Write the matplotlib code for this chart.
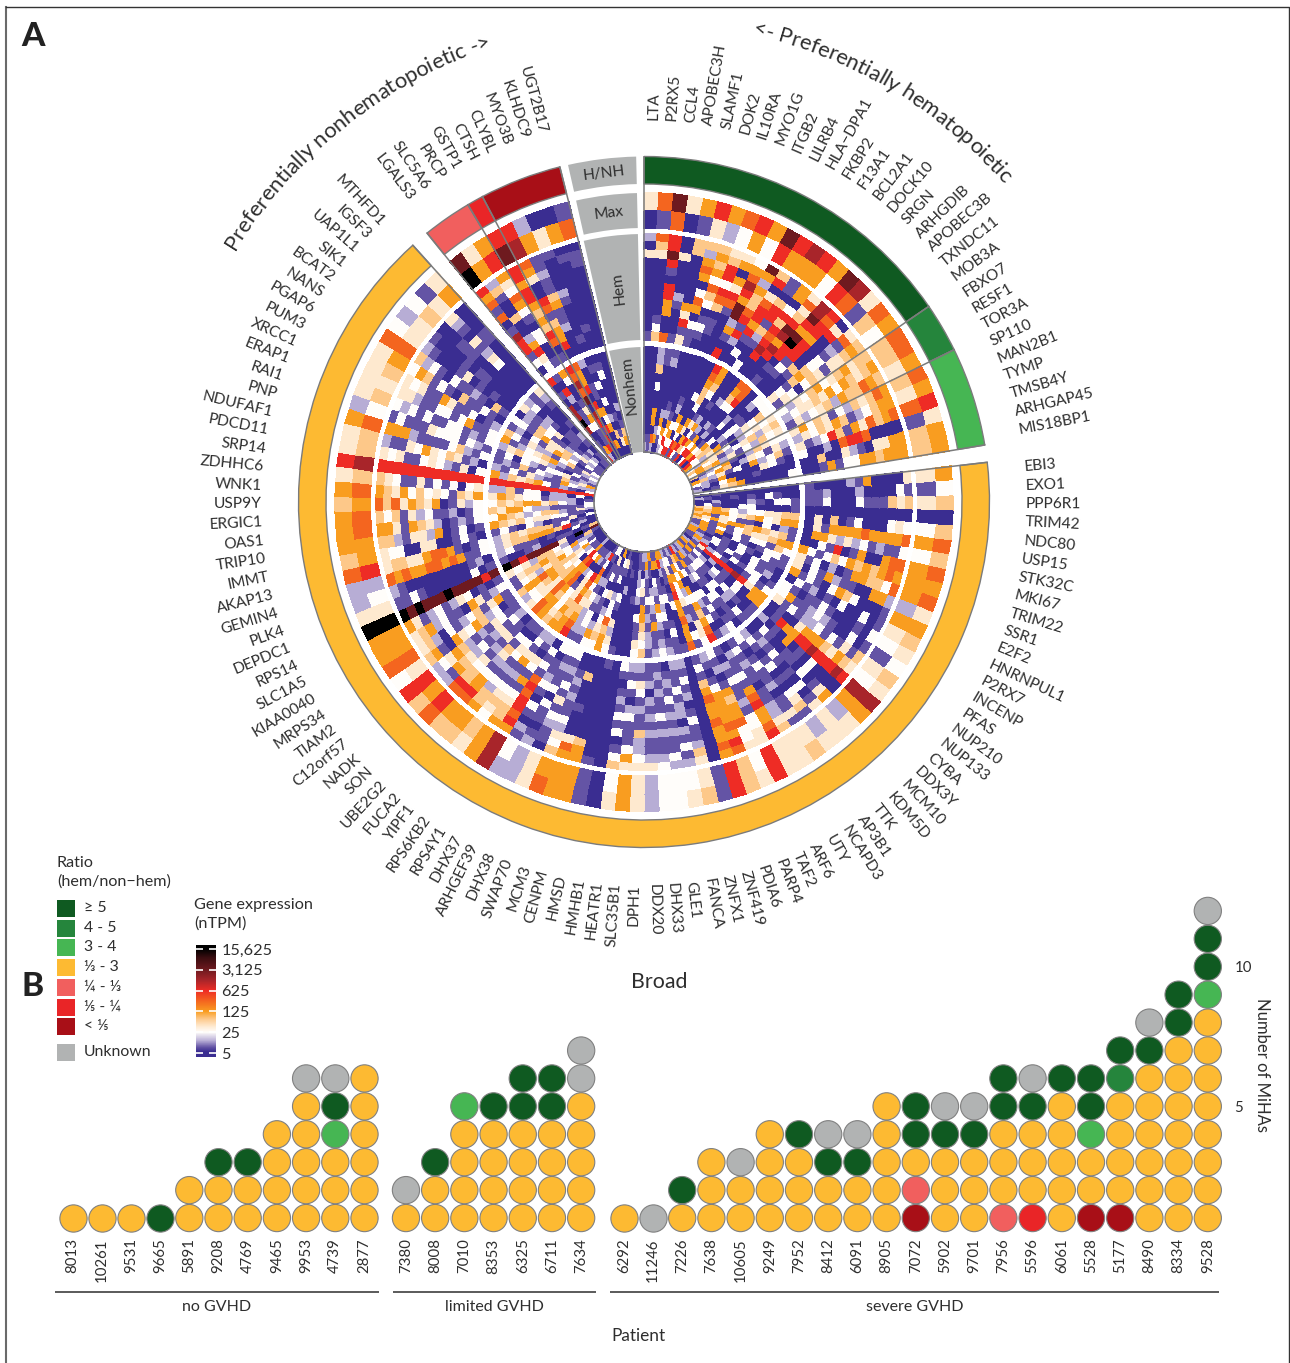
#!/usr/bin/env python3
"""Circular MiHA gene expression heatmap (A) and MiHA counts per patient (B)."""
import numpy as np
import matplotlib
matplotlib.use('Agg')
import matplotlib.pyplot as plt
from matplotlib.cm import ScalarMappable
from matplotlib.colors import LinearSegmentedColormap, LogNorm
from matplotlib.font_manager import FontProperties
from matplotlib.patches import Rectangle
from matplotlib.textpath import TextToPath

plt.rcParams['font.family'] = ['Lato', 'DejaVu Sans']
TEXT = '#2e2e2e'

# Expression levels, read cell by cell: 2 Max rows, 13 Hem rows, 12 Nonhem rows (outer to inner)
TPM_OF_LEVEL = {'0': 5, '1': 8, '2': 13, '3': 25, '4': 40, '5': 70, '6': 125,
                '7': 280, '8': 625, '9': 1400, 'a': 3125, 'b': 15625}

genes_hem = ['LTA', 'P2RX5', 'CCL4', 'APOBEC3H', 'SLAMF1', 'DOK2', 'IL10RA', 'MYO1G', 'ITGB2', 'LILRB4',
             'HLA\u2212DPA1', 'FKBP2', 'F13A1', 'BCL2A1', 'DOCK10', 'SRGN', 'ARHGDIB', 'APOBEC3B', 'TXNDC11',
             'MOB3A', 'FBXO7', 'RESF1', 'TOR3A', 'SP110', 'MAN2B1', 'TYMP', 'TMSB4Y', 'ARHGAP45', 'MIS18BP1']
levels_hem = [
    '40 2040000000001 000000000012', '71 7540000000135 000000000011', 'a7 88a8108866007 225030066072',
    '40 0040000210001 110000000260', '61 5500000064814 120000026310', '84 5267603760311 000000120632',
    '62 5656375301310 000000016383', '73 4588387501100 000001203638', '86 4606487100000 000000063038',
    '63 367986aa26108 000030006381', 'a8 a626557818200 876553064078', '86 5804788681030 665300140683',
    '96 1105881521003 000010263851', '86 6603858789800 000200021638', '63 47458a9698000 765300206380',
    'a8 99a86ab880101 778300120683', '97 8788688813100 000023001368', '41 0480000051000 320100036480',
    '75 4712133565134 300133205538', '63 5654414530341 353420164236', '75 5546543653423 434320354523',
    '75 6545636454432 542543214365', '64 5675562543241 435231426563', '75 6754523145364 334520163215',
    '64 6653215645342 241342056320', '87 7657461583214 153260314256', '41 0000788702003 013400006123',
    '65 6644012400500 000010063021', '65 6665663316100 300000654102',
]

genes_broad = ['EBI3', 'EXO1', 'PPP6R1', 'TRIM42', 'NDC80', 'USP15', 'STK32C', 'MKI67', 'TRIM22', 'SSR1', 'E2F2',
               'HNRNPUL1', 'P2RX7', 'INCENP', 'PFAS', 'NUP210', 'NUP133', 'CYBA', 'DDX3Y', 'MCM10', 'KDM5D', 'TTK',
               'AP3B1', 'NCAPD3', 'UTY', 'ARF6', 'TAF2', 'PARP4', 'PDIA6', 'ZNF419', 'ZNFX1', 'FANCA', 'GLE1',
               'DHX33', 'DDX20', 'DPH1', 'SLC35B1', 'HEATR1', 'HMHB1', 'HMSD', 'CENPM', 'MCM3', 'SWAP70', 'DHX38',
               'ARHGEF39', 'DHX37', 'RPS4Y1', 'RPS6KB2', 'YIPF1', 'FUCA2', 'UBE2G2', 'SON', 'NADK', 'C12orf57',
               'TIAM2', 'MRPS34', 'KIAA0040', 'SLC1A5', 'RPS14', 'DEPDC1', 'PLK4', 'GEMIN4', 'AKAP13', 'IMMT',
               'TRIP10', 'OAS1', 'ERGIC1', 'USP9Y', 'WNK1', 'ZDHHC6', 'SRP14', 'PDCD11', 'NDUFAF1', 'PNP', 'RAI1',
               'ERAP1', 'XRCC1', 'PUM3', 'PGAP6', 'NANS', 'BCAT2', 'SIK1', 'UAP1L1', 'IGSF3', 'MTHFD1']
levels_broad = [
    '64 4000061200001 000000000100', '31 1300002000211 001301010012', '54 5451113000311 133012000200',
    '00 0000000000000 100003300130', '53 3430003105040 554433235645', '76 7666676666140 664365436656',
    '53 3112132424660 120301134165', '76 7760061081300 154565664646', '66 6765656353136 665445316135',
    '76 7355661020314 351331313161', '42 2660011261304 133101306161', '66 1000356301316 113013010162',
    '54 1030030102130 011303013016', '43 3010001311013 021301313126', '31 1030012321163 103313010261',
    '54 5141313221314 313100132821', '43 4564566640010 664898888410', '99 8988898866810 660301020162',
    '66 0000301060102 100301302316', '42 6410301100130 101231213161', '44 4103010131210 130203013216',
    '42 1543010310132 011133113122', '54 1411021131013 310130132161', '44 5422110112131 201313021612',
    '44 8766876131120 103123003168', '88 4433121131201 876563606351', '43 4337665610213 344113263612',
    '55 7867666631012 130214336131', '88 6766766765131 766766876432', '11 0000000000000 100003101126',
    '54 4521131021312 113100310286', '43 2131202213112 210132311061', '33 2311212131210 321236123061',
    '33 3211213112121 211612320116', '22 4211212120211 122121311262', '44 4322511213412 534566143012',
    '66 4631113201312 341130232211', '43 5310313121013 000000100000', '00 0000000000000 000000000100',
    '11 1000000000001 100000020010', '66 6650000000000 342401300141', '66 6740001000500 665733203130',
    '76 5342311212100 354320401106', '44 0112314131213 362011303140', '22 2101130311213 123312021103',
    '23 1201301321103 122243120013', '99 6878878713130 876545367381', '66 6554316134012 665576780120',
    '45 3454312164132 656544430210', '56 6552312134301 543331020610', '56 7866312451301 666567768310',
    '78 7855341214110 776776667862', '56 2165423124132 434445530310', '88 2346521214311 234565343210',
    '34 5610643652301 566765554630', '77 4520312351461 134245632310', '66 4562311064123 145565436220',
    '66 6412312430101 434255320051', 'bb babaaabaaaa8a ba8aaaa40b0a', '44 1131000000301 100120011015',
    '23 2100000000120 231110100300', '22 7676677676113 245566658120', '78 4554467761013 245455513010',
    '56 4330044001310 131032011403', '66 5521442601301 654534433110', '67 6641654201213 365423552142',
    '67 5351423112013 546632211113', '56 7574654601423 354566453203', '67 6546353431546 465433122201',
    '45 5431141313034 225133022030', '89 8888888888888 888888888888', '45 4341134321403 625456312103',
    '45 2114364354120 213142116322', '67 6662111135213 121513215246', '23 1311143331321 130321334121',
    '45 3231311331213 245334210312', '44 4421133136113 612345621123', '45 4341164113012 531422135142',
    '46 3651310511310 120314653013', '77 5231031121051 331564452131', '34 2100014010100 021531123421',
    '24 1000010110000 421234011231', '35 0001110000000 230210110120', '14 4210412430000 110000110201',
    '46 0000110000000 421001021011',
]

genes_nonhem = ['LGALS3', 'SLC5A6', 'PRCP', 'GSTP1', 'CTSH', 'CLYBL', 'MYO3B', 'KLHDC9', 'UGT2B17']
levels_nonhem = [
    'ab 8671701988130 801099b90118', '46 2510050026843 108201130062', '68 6437631033001 630014631180',
    '8a 8868865658701 8797a0981800', '89 7640087156680 766808608070', '26 1121156112000 200110636060',
    '04 1000021000010 010303020500', '06 0100000000100 013000010140', '17 0110000000000 000000201560',
]

# Ratio class per run of genes (gene counts, clockwise from the top)
ratio_counts_hem = [20, 3, 6]
ratio_classes_hem = ['ge5', '4-5', '3-4']
ratio_counts_nonhem = [3, 1, 5]
ratio_classes_nonhem = ['1/4', '1/5', 'lt5']

ratio_labels = ['\u2265 5', '4 - 5', '3 - 4', '\u2153 - 3', '\u00bc - \u2153', '\u2155 - \u00bc', '< \u2155', 'Unknown']
ratio_keys = ['ge5', '4-5', '3-4', 'mid', '1/4', '1/5', 'lt5', 'unk']
ratio_colors = ['#0f5a21', '#25853c', '#46b653', '#fdba32', '#f15f5e', '#e92527', '#a80f17', '#b1b3b3']
RATIO_COLOR = dict(zip(ratio_keys, ratio_colors))

tpm_ticks = [5, 25, 125, 625, 3125, 15625]
tpm_tick_labels = ['5', '25', '125', '625', '3,125', '15,625']

# Panel B: MiHA classes per patient, bottom dot first
CODE = {'D': 'ge5', 'M': '4-5', 'L': '3-4', 'Y': 'mid', 'P': '1/4', 'R': '1/5', 'K': 'lt5', 'G': 'unk'}
patients_none = ['8013', '10261', '9531', '9665', '5891', '9208', '4769', '9465', '9953', '4739', '2877']
mihas_none = ['Y', 'Y', 'Y', 'D', 'YY', 'YYD', 'YYD', 'YYYY', 'YYYYYG', 'YYYLDG', 'YYYYYY']
patients_limited = ['7380', '8008', '7010', '8353', '6325', '6711', '7634']
mihas_limited = ['YG', 'YYD', 'YYYYL', 'YYYYD', 'YYYYDD', 'YYYYDD', 'YYYYYGG']
patients_severe = ['6292', '11246', '7226', '7638', '10605', '9249', '7952', '8412', '6091', '8905', '7072',
                   '5902', '9701', '7956', '5596', '6061', '5528', '5177', '8490', '8334', '9528']
mihas_severe = ['Y', 'G', 'YD', 'YYY', 'YYG', 'YYYY', 'YYYD', 'YYDG', 'YYDG', 'YYYYY', 'KPYDD', 'YYYDG', 'YYYDG',
                'PYYYDD', 'RYYYDG', 'YYYYYD', 'KYYLDD', 'KYYYYMD', 'YYYYYYDG', 'YYYYYYYDD', 'YYYYYYYYLDDG']

W, H = 1290, 1363
CX, CY = 644, 502
fig = plt.figure(figsize=(W / 100, H / 100), dpi=100)


def px_rect(x0, y0, x1, y1):
    return [x0 / W, 1 - y1 / H, (x1 - x0) / W, (y1 - y0) / H]


# overlay in pixel coordinates for frame, legend, captions
ov = fig.add_axes([0, 0, 1, 1])
ov.set_xlim(0, W)
ov.set_ylim(H, 0)
ov.axis('off')

# expression scale
norm = LogNorm(vmin=3.68, vmax=21200)
nodes = [(3.68, '#3a2d91'), (5.6, '#3a2d91'), (8, '#6656a6'), (13, '#b8aed6'), (25, '#fffdfa'), (40, '#fee9cf'),
         (70, '#fdc88a'), (125, '#f99d20'), (280, '#f4651f'), (625, '#ee2c25'), (1400, '#a8252a'),
         (3125, '#6e1a1f'), (8000, '#3a0d10'), (15625, '#000000'), (21200, '#000000')]
cmap = LinearSegmentedColormap.from_list('ntpm', [(float(norm(v)), c) for v, c in nodes], N=512)

# ---- Panel A ----
ax = fig.add_axes(px_rect(CX - 400, CY - 400, CX + 400, CY + 400), projection='polar')
ax.set_theta_zero_location('N')
ax.set_theta_direction(-1)
ax.set_rlim(0, 400)
ax.patch.set_alpha(0)
ax.grid(False)
ax.set_xticks([])
ax.set_yticks([])
ax.spines['polar'].set_visible(False)

RINGS = [(274, 309, 2, 0), (162, 268, 13, 1), (50, 155, 12, 2)]
R_ANNOT = (318, 345.5)
LINE = '#7b7b7b'


def matrix(levels, part, n):
    rows = [s.split()[part].ljust(n, '0')[:n] for s in levels]
    return np.array([[TPM_OF_LEVEL[c] for c in r] for r in rows], dtype=float)


def draw_sector(levels, start, end, counts, classes, genes):
    edges = np.radians(np.linspace(start, end, len(levels) + 1))
    for r0, r1, n, part in RINGS:
        vals = matrix(levels, part, n)
        r_edges = np.linspace(r1, r0, n + 1)
        ax.pcolormesh(edges, r_edges, vals.T, cmap=cmap, norm=norm, shading='flat',
                      edgecolors='face', linewidth=0.25)
    pos = 0
    for cnt, cls in zip(counts, classes):
        a0, a1 = edges[pos], edges[pos + cnt]
        ax.bar(a0, R_ANNOT[1] - R_ANNOT[0], width=a1 - a0, bottom=R_ANNOT[0], align='edge',
               color=RATIO_COLOR[cls], edgecolor=LINE, linewidth=1.0)
        ax.plot([a0, a0], [50, R_ANNOT[1]], color=LINE, lw=1.1)
        pos += cnt
    ax.plot([edges[-1], edges[-1]], [50, R_ANNOT[1]], color=LINE, lw=1.1)
    ax.plot(np.linspace(edges[0], edges[-1], 60), np.full(60, 50), color=LINE, lw=1.2)
    mids = np.degrees((edges[:-1] + edges[1:]) / 2)
    for g, t in zip(genes, mids):
        right = t < 180
        ax.text(np.radians(t), 382, g, rotation=90 - t if right else 270 - t, rotation_mode='anchor',
                ha='left' if right else 'right', va='center', fontsize=11.2, color=TEXT)


draw_sector(levels_hem, 0, 80.5, ratio_counts_hem, ratio_classes_hem, genes_hem)
draw_sector(levels_broad, 83.4, 318.0, [85], ['mid'], genes_broad)
draw_sector(levels_nonhem, 321.1, 345.9, ratio_counts_nonhem, ratio_classes_nonhem, genes_nonhem)

# grey track labels in the top gap
tracks = [('H/NH', 318, 345.5, 331, 7, -12.7), ('Max', 274, 309, 291, 7, -12.7),
          ('Hem', 162, 268, 215, 97, -13.0), ('Nonhem', 50, 155, 118, 96, -13.0)]
for name, r0, r1, r_text, rot, left in tracks:
    a0, a1 = np.radians(left), np.radians(-1.3)
    ax.bar(a0, r1 - r0, width=a1 - a0, bottom=r0, align='edge', color='#b1b3b3', edgecolor='none')
    ax.text(np.radians(-6.9), r_text, name, rotation=rot, rotation_mode='anchor', ha='center', va='center',
            fontsize=11.2, color=TEXT)


def arc_text(s, r, t0, t1, size):
    # letters spaced along the arc between two angles
    fp = FontProperties(family='Lato', size=size)
    ttp = TextToPath()
    adv = [ttp.get_text_width_height_descent(s[:i], fp, False)[0] for i in range(len(s) + 1)]
    for i, ch in enumerate(s):
        if ch == ' ':
            continue
        frac = (adv[i] + adv[i + 1]) / 2 / adv[-1]
        t = t0 + (t1 - t0) * frac
        ax.text(np.radians(t), r, ch, rotation=-t, rotation_mode='anchor', ha='center', va='baseline',
                fontproperties=fp, color=TEXT)


arc_text('Preferentially nonhematopoietic ->', 480, -58.5, -18.5, 15.8)
arc_text('<- Preferentially hematopoietic', 480, 13.0, 48.5, 15.8)

# ---- Legend ----
ov.text(57, 863, 'Ratio', fontsize=11.6, color=TEXT, va='center')
ov.text(57, 882, '(hem/non\u2212hem)', fontsize=11.6, color=TEXT, va='center')
legend_y = [908, 928, 947, 967, 987, 1007, 1026, 1052]
for y, lab, col in zip(legend_y, ratio_labels, ratio_colors):
    ov.add_patch(Rectangle((57, y - 8.5), 18, 17, color=col, lw=0))
    ov.text(84, y, lab, fontsize=11.4, color=TEXT, va='center')

ov.text(194, 905, 'Gene expression', fontsize=11.7, color=TEXT, va='center')
ov.text(194, 924, '(nTPM)', fontsize=11.7, color=TEXT, va='center')
cax = fig.add_axes(px_rect(196, 945, 216, 1057))
cb = fig.colorbar(ScalarMappable(norm=norm, cmap=cmap), cax=cax, ticks=tpm_ticks)
cb.ax.minorticks_off()
cb.ax.set_yticklabels(tpm_tick_labels)
cb.ax.tick_params(axis='y', direction='in', length=5, width=1.2, color='white', left=True, right=True,
                  labelsize=11.7, labelcolor=TEXT, pad=4)
cb.outline.set_visible(False)

# ---- Panel B ----
SPACING_X, SPACING_Y = 29.2, 27.9
X0, Y0 = 72.5, 1218
bx = fig.add_axes(px_rect(55, 883, 1226, 1232))
bx.set_xlim((55 - X0) / SPACING_X, (1226 - X0) / SPACING_X)
bx.set_ylim(0.5, 13)
bx.patch.set_alpha(0)
for s in bx.spines.values():
    s.set_visible(False)

group_starts = [0, 11.42, 18.88]
all_x, all_ids = [], []
for start, ids, mihas in zip(group_starts, [patients_none, patients_limited, patients_severe],
                             [mihas_none, mihas_limited, mihas_severe]):
    for i, (pid, dots) in enumerate(zip(ids, mihas)):
        all_x.append(start + i)
        all_ids.append(pid)
        bx.scatter(np.full(len(dots), start + i), np.arange(1, len(dots) + 1),
                   c=[RATIO_COLOR[CODE[d]] for d in dots], s=385, edgecolors='#808080', linewidths=0.8,
                   clip_on=False, zorder=3)
bx.set_xticks(all_x)
bx.set_xticklabels(all_ids, rotation=90, fontsize=10.8, color=TEXT, va='top')
bx.yaxis.tick_right()
bx.set_yticks([5, 10])
bx.set_yticklabels(['5', '10'], fontsize=10.8, color=TEXT)
bx.tick_params(axis='both', length=0)
bx.tick_params(axis='x', pad=4.5)
bx.tick_params(axis='y', pad=6)

for x0, x1, label in [(55, 379, 'no GVHD'), (393, 596, 'limited GVHD'), (610, 1219, 'severe GVHD')]:
    ov.plot([x0, x1], [1291.5, 1291.5], color='#4d4d4d', lw=1.3, solid_capstyle='butt')
    ov.text((x0 + x1) / 2, 1307, label, ha='center', va='center', fontsize=11.5, color=TEXT)

ov.text(638, 1336, 'Patient', ha='center', va='center', fontsize=12.4, color=TEXT)
ov.text(659, 982, 'Broad', ha='center', va='center', fontsize=15.4, color=TEXT)
ov.text(1262, 1065, 'Number of MiHAs', rotation=-90, ha='center', va='center', fontsize=12, color=TEXT)
ov.text(33, 37, 'A', ha='center', va='center', fontsize=24, fontweight='black', color='#222222')
ov.text(33, 986, 'B', ha='center', va='center', fontsize=24, fontweight='black', color='#222222')

# frame
ov.plot([6, 6], [H, 6.5], color='#6a6a6a', lw=1.5)
ov.plot([5.5, 1289, 1289], [6.5, 6.5, H], color='#333333', lw=1.0)

fig.savefig('out.png', dpi=100, facecolor='white')
